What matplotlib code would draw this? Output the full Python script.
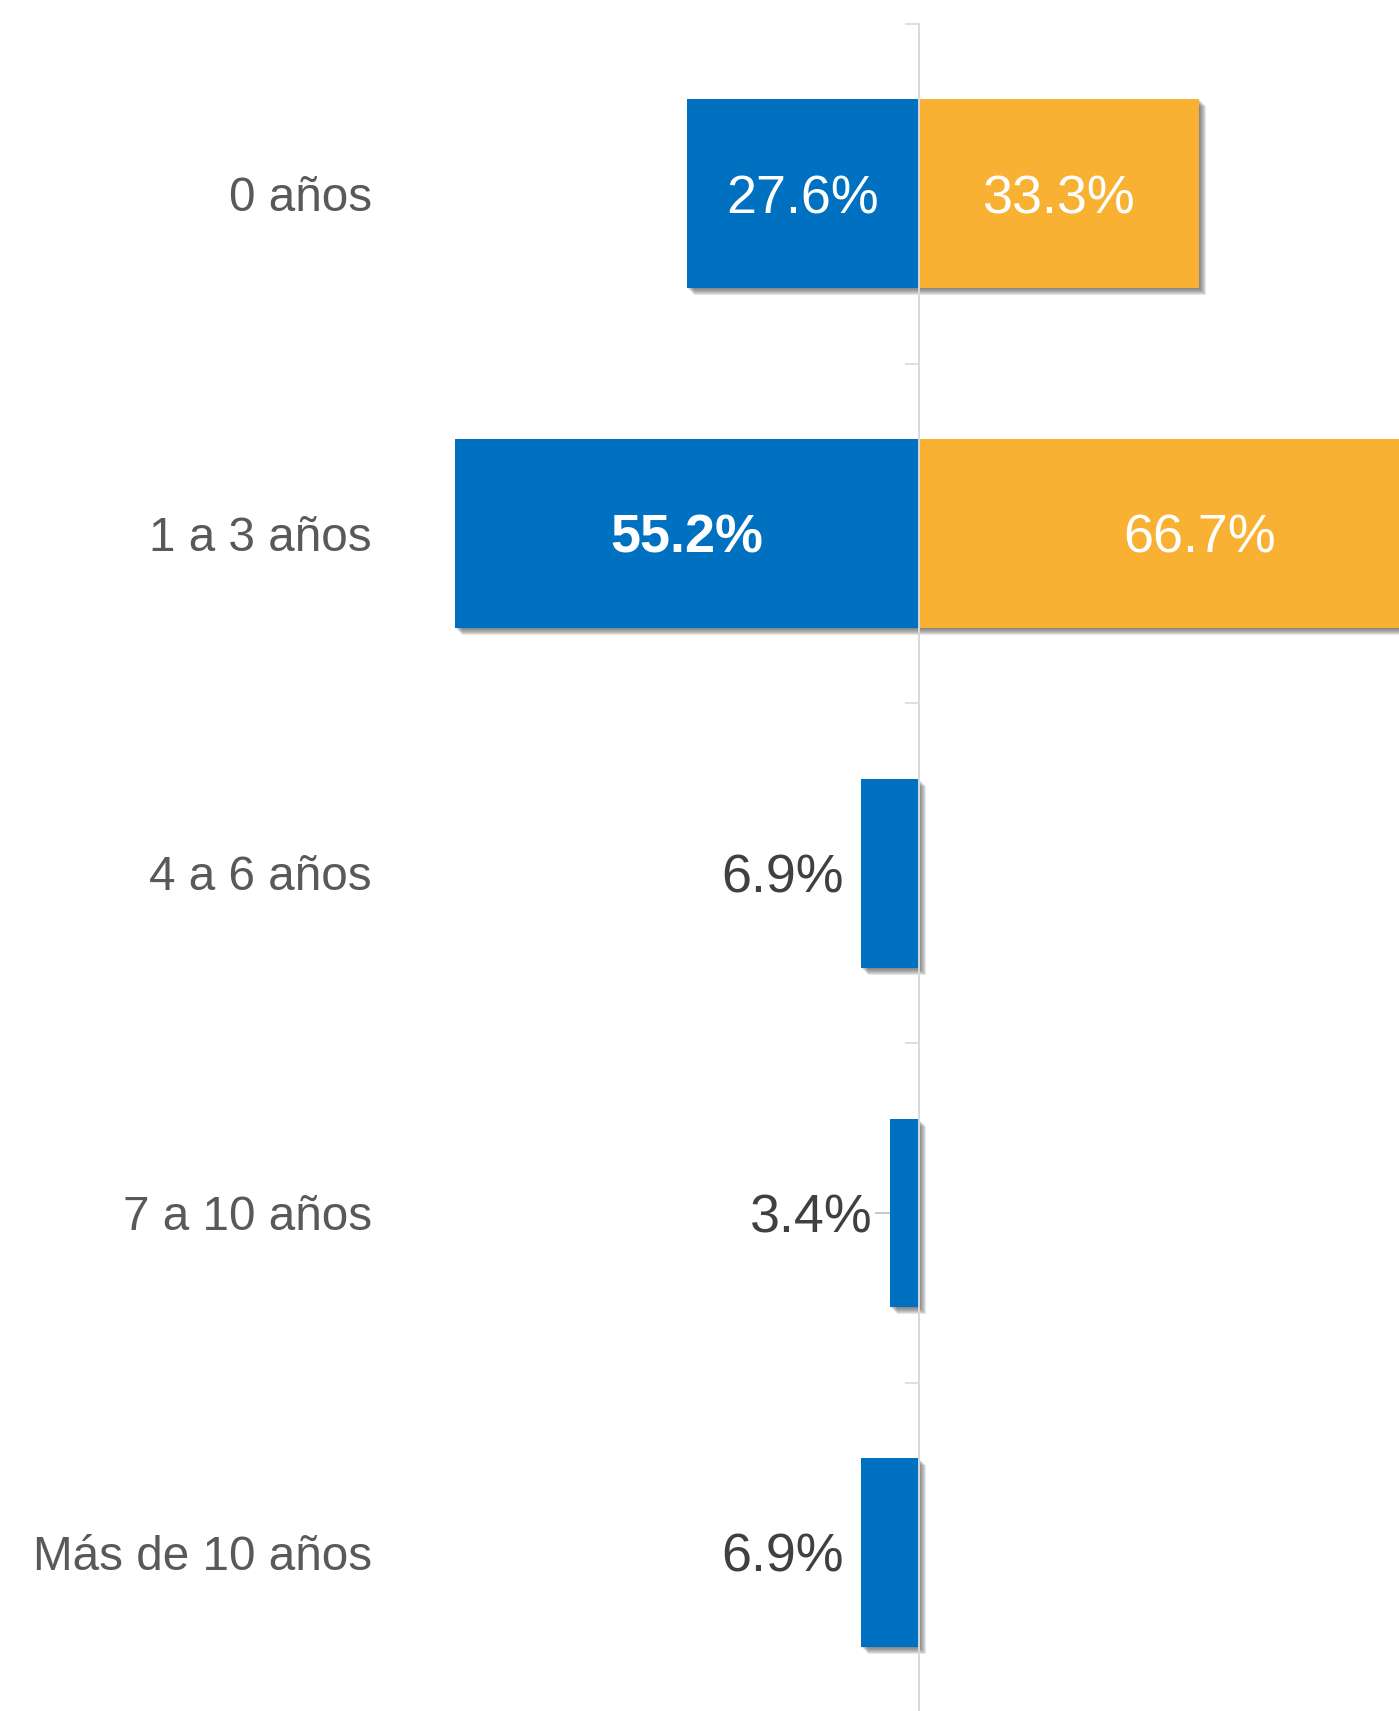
import matplotlib
matplotlib.use("Agg")
import matplotlib.pyplot as plt
import matplotlib.patheffects as pe
import matplotlib.transforms as mtransforms
import numpy as np

categories = ["0 años", "1 a 3 años", "4 a 6 años", "7 a 10 años", "Más de 10 años"]
blue_values = [27.6, 55.2, 6.9, 3.4, 6.9]
orange_values = [33.3, 66.7, 0.0, 0.0, 0.0]

BLUE = "#0070C0"
ORANGE = "#F8B133"
FONT = "Liberation Sans"

W, H, DPI = 1399, 1711, 100
fig = plt.figure(figsize=(W / DPI, H / DPI), dpi=DPI)
ax = fig.add_axes([0, 0, 1, 1])

px_per_unit = 8.41
x_axis_px = 919.0
spacing_px = 339.7
top_px = 24.0

y = np.arange(len(categories))
bar_h = 0.556

# soft drop shadow (stack of offset translucent copies)
px2pt = 72.0 / DPI
shadow = [pe.SimplePatchShadow(offset=(k * px2pt, -k * px2pt), shadow_rgbFace="#505050", alpha=0.14)
          for k in range(1, 8)] + [pe.Normal()]

neg_blue = [-v for v in blue_values]
bars_b = ax.barh(y, neg_blue, height=bar_h, color=BLUE, zorder=1)
bars_o = ax.barh(y, orange_values, height=bar_h, color=ORANGE, zorder=1.1)
for b in list(bars_b) + list(bars_o):
    if b.get_width() != 0:
        b.set_path_effects(shadow)

# axis line at zero
for s in ["top", "right", "bottom"]:
    ax.spines[s].set_visible(False)
ax.spines["left"].set_position(("data", 0))
ax.spines["left"].set_color("#D9D9D9")
ax.spines["left"].set_linewidth(1.4)
ax.spines["left"].set_bounds(-0.5, len(categories) - 0.5)
ax.set_axisbelow(True)
ax.set_xticks([])
ax.set_yticks(y)
ax.set_yticklabels([])
ax.set_yticks(np.arange(len(categories) + 1) - 0.5, minor=True)
ax.tick_params(axis="y", which="major", length=32, width=1.2, color="#BFBFBF", direction="out")
ax.tick_params(axis="y", which="minor", length=10, width=1.2, color="#D9D9D9", direction="out")

# limits set after ticks (set_yticks can expand the view)
ax.set_xlim(-x_axis_px / px_per_unit, (W - x_axis_px) / px_per_unit)
y_bottom = (H - top_px) / spacing_px - 0.5
y_top = -0.5 - top_px / spacing_px
ax.set_ylim(y_bottom, y_top)

fs_cat = 34.3
fs_val = 38.8

def tr(fs):
    return mtransforms.offset_copy(ax.transData, fig=fig, x=0, y=-0.358 * fs, units="points")

label_x = (372 - x_axis_px) / px_per_unit
for yi, cat in zip(y, categories):
    ax.text(label_x, yi, cat, ha="right", va="baseline", fontsize=fs_cat,
            color="#595959", family=FONT, transform=tr(fs_cat))

max_blue = max(blue_values)
for yi, v in zip(y, blue_values):
    txt = f"{v:.1f}%"
    if v >= 15:
        ax.text(-v / 2, yi, txt, ha="center", va="baseline", fontsize=fs_val, color="white",
                family=FONT, fontweight="bold" if v == max_blue else "normal", zorder=5,
                transform=tr(fs_val))
    else:
        ax.text(-v - 2.1, yi, txt, ha="right", va="baseline", fontsize=fs_val, color="#404040",
                family=FONT, zorder=5, transform=tr(fs_val))

for yi, v in zip(y, orange_values):
    if v <= 0:
        continue
    ax.text(v / 2, yi, f"{v:.1f}%", ha="center", va="baseline", fontsize=fs_val, color="white",
            family=FONT, zorder=5, clip_on=False, transform=tr(fs_val))

fig.savefig("out.png", dpi=DPI)
